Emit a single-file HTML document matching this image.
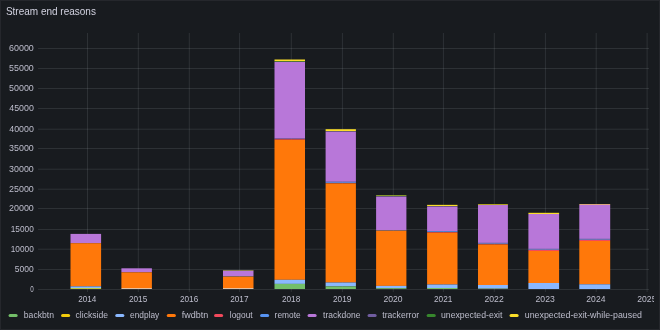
<!DOCTYPE html>
<html><head><meta charset="utf-8">
<style>
html,body{margin:0;padding:0;background:#111217;}
body{width:660px;height:330px;overflow:hidden;position:relative;font-family:"Liberation Sans",sans-serif;}
.panel{position:absolute;left:0;top:0;width:658px;height:328px;background:#181b1f;border:1px solid #25272c;}
svg{position:absolute;left:0;top:0;will-change:transform;}
text{fill:rgb(190,190,205);font-family:"Liberation Sans",sans-serif;}
</style></head><body>
<div class="panel"></div>
<svg width="660" height="330" viewBox="0 0 660 330">
<defs><clipPath id="cp"><rect x="0" y="0" width="654.1" height="330"/></clipPath></defs>
<g clip-path="url(#cp)">
<rect x="38" y="289.00" width="611" height="1" fill="rgba(240,250,255,0.10)"/><rect x="38" y="269.00" width="611" height="1" fill="rgba(240,250,255,0.10)"/><rect x="38" y="248.70" width="611" height="1" fill="rgba(240,250,255,0.10)"/><rect x="38" y="229.00" width="611" height="1" fill="rgba(240,250,255,0.10)"/><rect x="38" y="208.00" width="611" height="1" fill="rgba(240,250,255,0.10)"/><rect x="38" y="188.70" width="611" height="1" fill="rgba(240,250,255,0.10)"/><rect x="38" y="168.70" width="611" height="1" fill="rgba(240,250,255,0.10)"/><rect x="38" y="148.00" width="611" height="1" fill="rgba(240,250,255,0.10)"/><rect x="38" y="128.70" width="611" height="1" fill="rgba(240,250,255,0.10)"/><rect x="38" y="108.00" width="611" height="1" fill="rgba(240,250,255,0.10)"/><rect x="38" y="88.00" width="611" height="1" fill="rgba(240,250,255,0.10)"/><rect x="38" y="68.00" width="611" height="1" fill="rgba(240,250,255,0.10)"/><rect x="38" y="48.00" width="611" height="1" fill="rgba(240,250,255,0.10)"/><rect x="87.00" y="33" width="1" height="259" fill="rgba(240,250,255,0.10)"/><rect x="137.80" y="33" width="1" height="259" fill="rgba(240,250,255,0.10)"/><rect x="188.80" y="33" width="1" height="259" fill="rgba(240,250,255,0.10)"/><rect x="239.10" y="33" width="1" height="259" fill="rgba(240,250,255,0.10)"/><rect x="290.80" y="33" width="1" height="259" fill="rgba(240,250,255,0.10)"/><rect x="341.90" y="33" width="1" height="259" fill="rgba(240,250,255,0.10)"/><rect x="392.80" y="33" width="1" height="259" fill="rgba(240,250,255,0.10)"/><rect x="442.90" y="33" width="1" height="259" fill="rgba(240,250,255,0.10)"/><rect x="493.80" y="33" width="1" height="259" fill="rgba(240,250,255,0.10)"/><rect x="544.90" y="33" width="1" height="259" fill="rgba(240,250,255,0.10)"/><rect x="595.70" y="33" width="1" height="259" fill="rgba(240,250,255,0.10)"/><rect x="646.60" y="33" width="1" height="259" fill="rgba(240,250,255,0.10)"/><rect x="70.5" y="233.9" width="30.60" height="9.30" fill="#B877D9"/><rect x="70.5" y="243.2" width="30.60" height="43.20" fill="#FF780A"/><rect x="70.5" y="286.4" width="30.60" height="1.60" fill="#8AB8FF"/><rect x="70.5" y="288.0" width="30.60" height="1.00" fill="#b8c840"/><rect x="121.4" y="268.3" width="30.50" height="4.00" fill="#B877D9"/><rect x="121.4" y="272.3" width="30.50" height="15.70" fill="#FF780A"/><rect x="121.4" y="288.0" width="30.50" height="1.00" fill="#e6c0a0"/><rect x="223.0" y="270.1" width="30.50" height="0.70" fill="#a8a83a"/><rect x="223.0" y="270.8" width="30.50" height="5.40" fill="#B877D9"/><rect x="223.0" y="276.2" width="30.50" height="0.60" fill="#a08070"/><rect x="223.0" y="276.8" width="30.50" height="11.20" fill="#FF780A"/><rect x="223.0" y="288.0" width="30.50" height="1.00" fill="#e6c0a0"/><rect x="274.5" y="59.5" width="30.50" height="1.80" fill="#FADE2A"/><rect x="274.5" y="61.3" width="30.50" height="0.60" fill="#37872D"/><rect x="274.5" y="61.9" width="30.50" height="76.80" fill="#B877D9"/><rect x="274.5" y="138.7" width="30.50" height="0.40" fill="#705DA0"/><rect x="274.5" y="139.1" width="30.50" height="0.70" fill="#F2495C"/><rect x="274.5" y="139.8" width="30.50" height="140.00" fill="#FF780A"/><rect x="274.5" y="279.8" width="30.50" height="4.10" fill="#8AB8FF"/><rect x="274.5" y="283.9" width="30.50" height="5.10" fill="#73BF69"/><rect x="325.6" y="129.2" width="30.30" height="2.00" fill="#FADE2A"/><rect x="325.6" y="131.2" width="30.30" height="0.60" fill="#705DA0"/><rect x="325.6" y="131.8" width="30.30" height="50.00" fill="#B877D9"/><rect x="325.6" y="181.8" width="30.30" height="1.10" fill="#5794F2"/><rect x="325.6" y="182.9" width="30.30" height="0.50" fill="#F2495C"/><rect x="325.6" y="183.4" width="30.30" height="99.10" fill="#FF780A"/><rect x="325.6" y="282.5" width="30.30" height="3.90" fill="#8AB8FF"/><rect x="325.6" y="286.4" width="30.30" height="2.60" fill="#73BF69"/><rect x="376.1" y="195.2" width="30.30" height="1.00" fill="#9fb52c"/><rect x="376.1" y="196.2" width="30.30" height="0.60" fill="#705DA0"/><rect x="376.1" y="196.8" width="30.30" height="33.50" fill="#B877D9"/><rect x="376.1" y="230.3" width="30.30" height="0.60" fill="#a08070"/><rect x="376.1" y="230.9" width="30.30" height="55.00" fill="#FF780A"/><rect x="376.1" y="285.9" width="30.30" height="2.30" fill="#8AB8FF"/><rect x="376.1" y="288.2" width="30.30" height="0.80" fill="#73BF69"/><rect x="427.1" y="204.85" width="30.40" height="1.25" fill="#FADE2A"/><rect x="427.1" y="206.1" width="30.40" height="0.60" fill="#705DA0"/><rect x="427.1" y="206.7" width="30.40" height="24.50" fill="#B877D9"/><rect x="427.1" y="231.2" width="30.40" height="0.80" fill="#5794F2"/><rect x="427.1" y="232.0" width="30.40" height="0.70" fill="#F2495C"/><rect x="427.1" y="232.7" width="30.40" height="51.80" fill="#FF780A"/><rect x="427.1" y="284.5" width="30.40" height="3.50" fill="#8AB8FF"/><rect x="427.1" y="288" width="30.40" height="1.00" fill="#73BF69"/><rect x="478.0" y="204.0" width="29.90" height="1.00" fill="#b0a020"/><rect x="478.0" y="205.0" width="29.90" height="37.90" fill="#B877D9"/><rect x="478.0" y="242.9" width="29.90" height="0.90" fill="#5794F2"/><rect x="478.0" y="243.8" width="29.90" height="0.70" fill="#F2495C"/><rect x="478.0" y="244.5" width="29.90" height="40.50" fill="#FF780A"/><rect x="478.0" y="285.0" width="29.90" height="3.50" fill="#8AB8FF"/><rect x="478.0" y="288.5" width="29.90" height="0.50" fill="#90c8a0"/><rect x="528.4" y="212.8" width="30.70" height="1.20" fill="#FADE2A"/><rect x="528.4" y="214.0" width="30.70" height="34.90" fill="#B877D9"/><rect x="528.4" y="248.9" width="30.70" height="0.90" fill="#5794F2"/><rect x="528.4" y="249.8" width="30.70" height="1.20" fill="#F2495C"/><rect x="528.4" y="251.0" width="30.70" height="32.00" fill="#FF780A"/><rect x="528.4" y="283.0" width="30.70" height="6.00" fill="#8AB8FF"/><rect x="579.3" y="204.0" width="30.90" height="1.00" fill="#dca47e"/><rect x="579.3" y="205.0" width="30.90" height="33.90" fill="#B877D9"/><rect x="579.3" y="238.9" width="30.90" height="0.90" fill="#5794F2"/><rect x="579.3" y="239.8" width="30.90" height="1.20" fill="#F2495C"/><rect x="579.3" y="241.0" width="30.90" height="43.30" fill="#FF780A"/><rect x="579.3" y="284.3" width="30.90" height="4.70" fill="#8AB8FF"/><rect x="8.55" y="314.0" width="9.1" height="3.0" rx="1.5" fill="#73BF69"/><rect x="61.05" y="314.0" width="9.1" height="3.0" rx="1.5" fill="#F2CC0C"/><rect x="115.25" y="314.0" width="9.1" height="3.0" rx="1.5" fill="#8AB8FF"/><rect x="166.75" y="314.0" width="9.1" height="3.0" rx="1.5" fill="#FF780A"/><rect x="214.05" y="314.0" width="9.1" height="3.0" rx="1.5" fill="#F2495C"/><rect x="260.05" y="314.0" width="9.1" height="3.0" rx="1.5" fill="#5794F2"/><rect x="307.55" y="314.0" width="9.1" height="3.0" rx="1.5" fill="#B877D9"/><rect x="367.55" y="314.0" width="9.1" height="3.0" rx="1.5" fill="#705DA0"/><rect x="426.65" y="314.0" width="9.1" height="3.0" rx="1.5" fill="#37872D"/><rect x="509.55" y="314.0" width="9.1" height="3.0" rx="1.5" fill="#FADE2A"/>
<text x="30.20" y="292.00" font-size="9.0" textLength="3.48" lengthAdjust="spacingAndGlyphs">0</text><text x="14.81" y="272.00" font-size="9.0" textLength="18.94" lengthAdjust="spacingAndGlyphs">5000</text><text x="10.77" y="252.00" font-size="9.0" textLength="23.02" lengthAdjust="spacingAndGlyphs">10000</text><text x="10.77" y="232.00" font-size="9.0" textLength="23.02" lengthAdjust="spacingAndGlyphs">15000</text><text x="9.00" y="211.00" font-size="9.0" textLength="24.81" lengthAdjust="spacingAndGlyphs">20000</text><text x="9.00" y="192.00" font-size="9.0" textLength="24.81" lengthAdjust="spacingAndGlyphs">25000</text><text x="9.09" y="172.00" font-size="9.0" textLength="24.72" lengthAdjust="spacingAndGlyphs">30000</text><text x="9.09" y="151.00" font-size="9.0" textLength="24.72" lengthAdjust="spacingAndGlyphs">35000</text><text x="9.27" y="132.00" font-size="9.0" textLength="24.54" lengthAdjust="spacingAndGlyphs">40000</text><text x="9.27" y="111.00" font-size="9.0" textLength="24.54" lengthAdjust="spacingAndGlyphs">45000</text><text x="9.09" y="91.00" font-size="9.0" textLength="24.72" lengthAdjust="spacingAndGlyphs">50000</text><text x="9.09" y="71.00" font-size="9.0" textLength="24.72" lengthAdjust="spacingAndGlyphs">55000</text><text x="9.00" y="51.00" font-size="9.0" textLength="24.81" lengthAdjust="spacingAndGlyphs">60000</text><text x="78.14" y="301.60" font-size="8.6" textLength="18.11" lengthAdjust="spacingAndGlyphs">2014</text><text x="128.94" y="301.60" font-size="8.6" textLength="18.28" lengthAdjust="spacingAndGlyphs">2015</text><text x="179.94" y="301.60" font-size="8.6" textLength="18.28" lengthAdjust="spacingAndGlyphs">2016</text><text x="230.24" y="301.60" font-size="8.6" textLength="18.28" lengthAdjust="spacingAndGlyphs">2017</text><text x="281.94" y="301.60" font-size="8.6" textLength="18.28" lengthAdjust="spacingAndGlyphs">2018</text><text x="333.04" y="301.60" font-size="8.6" textLength="18.28" lengthAdjust="spacingAndGlyphs">2019</text><text x="383.47" y="301.60" font-size="8.6" textLength="19.13" lengthAdjust="spacingAndGlyphs">2020</text><text x="434.04" y="301.60" font-size="8.6" textLength="18.28" lengthAdjust="spacingAndGlyphs">2021</text><text x="484.47" y="301.60" font-size="8.6" textLength="19.22" lengthAdjust="spacingAndGlyphs">2022</text><text x="535.57" y="301.60" font-size="8.6" textLength="19.22" lengthAdjust="spacingAndGlyphs">2023</text><text x="586.37" y="301.60" font-size="8.6" textLength="19.04" lengthAdjust="spacingAndGlyphs">2024</text><text x="637.27" y="301.60" font-size="8.6" textLength="19.22" lengthAdjust="spacingAndGlyphs">2025</text><text x="23.84" y="317.80" font-size="9.0" textLength="30.15" lengthAdjust="spacingAndGlyphs">backbtn</text><text x="75.56" y="317.80" font-size="9.0" textLength="32.38" lengthAdjust="spacingAndGlyphs">clickside</text><text x="130.12" y="317.80" font-size="9.0" textLength="29.16" lengthAdjust="spacingAndGlyphs">endplay</text><text x="181.75" y="317.80" font-size="9.0" textLength="26.45" lengthAdjust="spacingAndGlyphs">fwdbtn</text><text x="229.86" y="317.80" font-size="9.0" textLength="22.77" lengthAdjust="spacingAndGlyphs">logout</text><text x="274.60" y="317.80" font-size="9.0" textLength="26.06" lengthAdjust="spacingAndGlyphs">remote</text><text x="323.12" y="317.80" font-size="9.0" textLength="37.24" lengthAdjust="spacingAndGlyphs">trackdone</text><text x="382.31" y="317.80" font-size="9.0" textLength="36.74" lengthAdjust="spacingAndGlyphs">trackerror</text><text x="440.98" y="317.80" font-size="9.0" textLength="61.51" lengthAdjust="spacingAndGlyphs">unexpected-exit</text><text x="524.77" y="317.80" font-size="9.0" textLength="117.21" lengthAdjust="spacingAndGlyphs">unexpected-exit-while-paused</text>
<text style="fill:rgb(210,210,224)" x="5.90" y="14.70" font-size="10.3" textLength="90.05" lengthAdjust="spacingAndGlyphs">Stream end reasons</text>
</g>
</svg>
</body></html>
